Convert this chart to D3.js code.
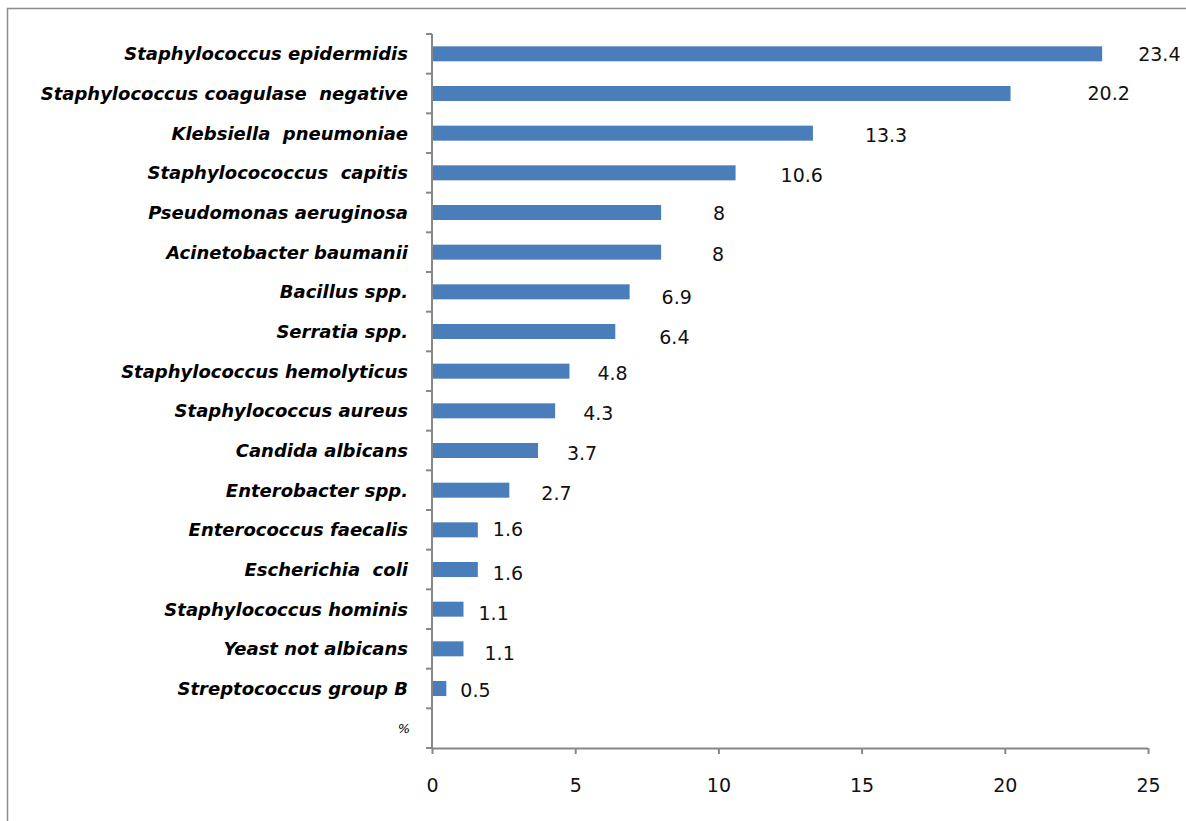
<!DOCTYPE html>
<html>
<head>
<meta charset="utf-8">
<script src="https://cdn.jsdelivr.net/npm/d3@7"></script>
<style>
  html, body { margin: 0; padding: 0; background: #fff; }
  svg { display: block; }
</style>
</head>
<body>
<svg id="chart" width="1186" height="821"></svg>
<script>
// Isolated organisms, share of all isolates (%)
const organisms = [
  "Staphylococcus epidermidis",
  "Staphylococcus coagulase  negative",
  "Klebsiella  pneumoniae",
  "Staphylocococcus  capitis",
  "Pseudomonas aeruginosa",
  "Acinetobacter baumanii",
  "Bacillus spp.",
  "Serratia spp.",
  "Staphylococcus hemolyticus",
  "Staphylococcus aureus",
  "Candida albicans",
  "Enterobacter spp.",
  "Enterococcus faecalis",
  "Escherichia  coli",
  "Staphylococcus hominis",
  "Yeast not albicans",
  "Streptococcus group B"
];
const percentages = [23.4, 20.2, 13.3, 10.6, 8, 8, 6.9, 6.4, 4.8, 4.3, 3.7, 2.7, 1.6, 1.6, 1.1, 1.1, 0.5];
const unitLabel = "%";
const xTicks = [0, 5, 10, 15, 20, 25];

// Hand-placed offsets of the value labels from each bar end (px)
const labelNudge = [
  [36, 0], [77, 0], [52, 2], [45, 2], [52, 1], [51, 2], [32, 5], [44, 6], [28, 2],
  [28, 2], [29, 3], [32, 3], [15, -1], [15, 4], [15, 4], [21, 4], [14, 2]
];

const svg = d3.select("#chart");

// outer frame
svg.append("rect")
  .attr("x", 7.5).attr("y", 8.5)
  .attr("width", 1186).attr("height", 830)
  .attr("fill", "none").attr("stroke", "#8c8c8c").attr("stroke-width", 1.5);

const plotLeft = 432, plotRight = 1148, plotTop = 34, plotBottom = 748;
const axisColor = "#878787";
const sans = "DejaVu Sans, Verdana, sans-serif";

const x = d3.scaleLinear().domain([0, 25]).range([plotLeft, plotRight]);
const y = d3.scaleBand().domain([...organisms, unitLabel]).range([plotTop, plotBottom]);

const rows = organisms.map((name, i) => ({ name, value: percentages[i], nudge: labelNudge[i] }));

// bars
const barH = 15;
svg.append("g").selectAll("rect").data(rows).join("rect")
  .attr("x", x(0))
  .attr("y", d => y(d.name) + y.bandwidth() / 2 - barH / 2)
  .attr("width", d => x(d.value) - x(0))
  .attr("height", barH)
  .attr("fill", "#4a7ebb");

// value labels
svg.append("g").selectAll("text").data(rows).join("text")
  .attr("x", d => x(d.value) + d.nudge[0])
  .attr("y", d => y(d.name) + y.bandwidth() / 2 + d.nudge[1])
  .attr("dy", "0.36em")
  .attr("font-family", sans)
  .attr("font-size", 19)
  .attr("fill", "#111")
  .text(d => d.value);

// category axis: ticks between categories
const yAxis = svg.append("g");
yAxis.append("line")
  .attr("x1", plotLeft).attr("x2", plotLeft)
  .attr("y1", plotTop).attr("y2", plotBottom)
  .attr("stroke", axisColor).attr("stroke-width", 2);
const boundaries = y.domain().map(d => y(d)).concat([plotBottom]);
yAxis.selectAll("line.tick").data(boundaries).join("line")
  .attr("class", "tick")
  .attr("x1", plotLeft - 6).attr("x2", plotLeft)
  .attr("y1", d => d).attr("y2", d => d)
  .attr("stroke", axisColor).attr("stroke-width", 2);

svg.append("g").selectAll("text").data(organisms).join("text")
  .attr("x", plotLeft - 24)
  .attr("y", d => y(d) + y.bandwidth() / 2)
  .attr("dy", "0.36em")
  .attr("text-anchor", "end")
  .attr("font-family", sans)
  .attr("font-size", 18)
  .attr("font-weight", "bold")
  .attr("font-style", "italic")
  .attr("fill", "#000")
  .style("white-space", "pre")
  .text(d => d);

svg.append("text")
  .attr("x", plotLeft - 22)
  .attr("y", y(unitLabel) + y.bandwidth() / 2)
  .attr("dy", "0.36em")
  .attr("text-anchor", "end")
  .attr("font-family", sans)
  .attr("font-size", 13)
  .attr("font-style", "italic")
  .attr("fill", "#000")
  .text(unitLabel);

// value axis
const xAxis = d3.axisBottom(x).tickValues(xTicks).tickSize(6).tickPadding(25).tickFormat(d3.format("d"));
const gx = svg.append("g").attr("transform", `translate(0,${plotBottom})`).call(xAxis);
gx.select(".domain").attr("stroke", axisColor).attr("stroke-width", 2).attr("d", `M${plotLeft},0.5H${plotRight}`);
gx.selectAll(".tick line").attr("stroke", axisColor).attr("stroke-width", 2);
gx.selectAll(".tick text")
  .attr("font-family", sans)
  .attr("font-size", 19)
  .attr("fill", "#111");
</script>
</body>
</html>
